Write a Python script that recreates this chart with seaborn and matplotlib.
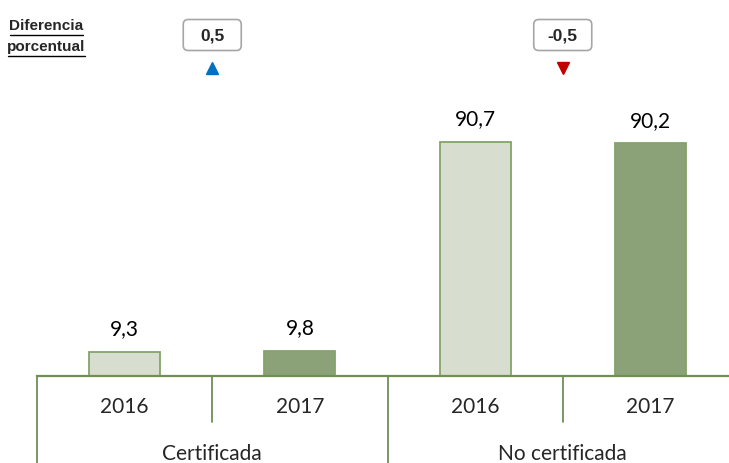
import matplotlib
matplotlib.use("Agg")
import matplotlib.pyplot as plt
import seaborn as sns
import pandas as pd
from matplotlib.patches import FancyBboxPatch
from matplotlib.lines import Line2D
import matplotlib.transforms as mtransforms

# ---- data ----
groups = ["Certificada", "No certificada"]
years = ["2016", "2017"]
values = [9.3, 9.8, 90.7, 90.2]
value_labels = ["9,3", "9,8", "90,7", "90,2"]
diff_labels = ["0,5", "-0,5"]
diff_up = [True, False]

bar_ids = [f"{g} {y}" for g in groups for y in years]
bar_colors = ["#D7E0CC", "#8BA870", "#D7E0CC", "#8BA870"]
df = pd.DataFrame({"bar": bar_ids, "value": values})

sns.set_theme(style="white")
plt.rcParams["font.family"] = ["Lato", "DejaVu Sans"]

W, H = 729, 464
fig = plt.figure(figsize=(W / 100, H / 100), dpi=100)
ax = fig.add_axes([37 / W, (H - 377) / H, 701 / W, 277 / H])

sns.barplot(data=df, x="bar", y="value", hue="bar", order=bar_ids,
            palette=bar_colors, legend=False, width=0.405,
            edgecolor="#84A46B", linewidth=1.3, ax=ax)

ax.set_xlim(-0.5, 3.5)
ax.set_ylim(0, 277 / 2.58)
for s in ["top", "right", "left"]:
    ax.spines[s].set_visible(False)
ax.spines["bottom"].set_color("#6F8F57")
ax.spines["bottom"].set_linewidth(1.6)
ax.set_xticks([])
ax.set_yticks([])
ax.set_xlabel("")
ax.set_ylabel("")

# value labels
for i, (v, lab) in enumerate(zip(values, value_labels)):
    ax.annotate(lab, (i, v), xytext=(0, 17), textcoords="offset points",
                ha="center", va="center", fontsize=15, color="black")

trans = mtransforms.blended_transform_factory(ax.transData, ax.transAxes)
line_col = "#6F8F57"
# dividers
for k in range(len(groups)):
    ax.plot([2 * k + 0.5, 2 * k + 0.5], [0, -46 / 277], transform=trans,
            color=line_col, lw=1.3, clip_on=False)
for k in range(len(groups) + 1):
    ax.plot([2 * k - 0.5, 2 * k - 0.5], [0, -0.33], transform=trans,
            color=line_col, lw=1.3, clip_on=False)

# year labels
for i in range(len(bar_ids)):
    ax.text(i, -30 / 277, years[i % 2], transform=trans, ha="center",
            va="center", fontsize=15)
# group labels
for k, g in enumerate(groups):
    ax.text(2 * k + 0.5, -77 / 277, g, transform=trans, ha="center",
            va="center", fontsize=15)

# header annotation
narrow = ["Liberation Sans Narrow", "Liberation Sans", "DejaVu Sans"]
fig.text(46 / W, 1 - 26 / H, "Diferencia", ha="center", va="center",
         fontsize=11, fontweight="bold", family=narrow)
fig.text(46 / W, 1 - 47 / H, "porcentual", ha="center", va="center",
         fontsize=11, fontweight="bold", family=narrow)
fig.add_artist(Line2D([10 / W, 83 / W], [1 - 35.5 / H, 1 - 35.5 / H],
                      color="black", lw=1))
fig.add_artist(Line2D([8 / W, 85 / W], [1 - 57 / H, 1 - 57 / H],
                      color="black", lw=1))

fig.canvas.draw()
for k, (lab, up) in enumerate(zip(diff_labels, diff_up)):
    cx = ax.transData.transform((2 * k + 0.5, 0))[0]
    bw, bh = 58, 31
    cy = H - 36
    box = FancyBboxPatch((cx - bw / 2, cy - bh / 2), bw, bh,
                         boxstyle="round,pad=0,rounding_size=5",
                         transform=None, fc="white", ec="#A6A6A6", lw=1.2)
    fig.add_artist(box)
    fig.text(cx / W, cy / H, lab, ha="center", va="center", fontsize=12.5,
             fontweight="bold", family=narrow)
    fig.add_artist(Line2D([cx / W], [1 - 69 / H],
                          marker="^" if up else "v", markersize=9,
                          color="#0070C0" if up else "#C00000", lw=0))

fig.savefig("out.png", dpi=100)
